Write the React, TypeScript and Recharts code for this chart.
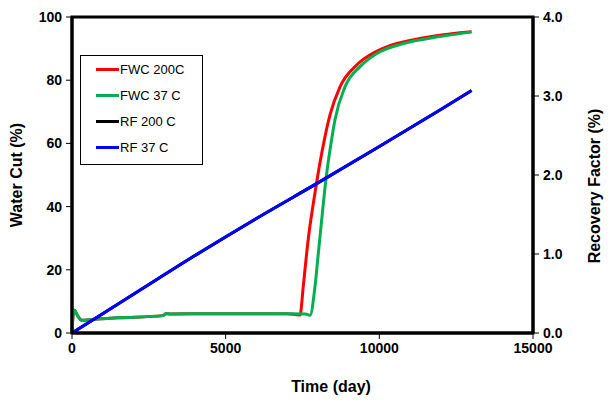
import React from 'react';
import {
	LineChart,
	Line,
	XAxis,
	YAxis,
	ReferenceArea,
} from 'recharts';

// time (day) / water cut (%)
const fwc200Time = [0, 30, 80, 180, 316, 683, 1500, 2960, 3060, 3200, 4500, 6000, 7000, 7419, 7527, 7690, 7852, 7982, 8177, 8395, 8720, 9263, 9696, 10300, 11000, 11800, 13000];
const fwc200Cut = [0, 5, 7.2, 5.5, 4.0, 4.3, 4.8, 5.5, 6.2, 6.0, 6.1, 6.1, 6.1, 5.7, 15, 30, 41, 49, 59.5, 69, 77.9, 84.8, 88, 90.8, 92.6, 94, 95.3];

const fwc37Time = [0, 30, 80, 180, 316, 683, 1500, 2960, 3060, 3200, 4500, 6000, 7000, 7600, 7744, 7906, 8015, 8124, 8210, 8300, 8420, 8557, 8883, 9371, 9696, 10022, 10781, 11974, 13000];
const fwc37Cut = [0, 5, 7.2, 5.5, 4.0, 4.3, 4.8, 5.5, 6.2, 6.0, 6.1, 6.1, 6.1, 6.0, 5.6, 14.7, 25.2, 35.8, 44, 51.5, 59.5, 67.5, 77.9, 84.3, 87, 89, 91.6, 93.8, 95.3];

// time (day) / recovery factor (%)
const rfTime = [0, 2000, 4000, 6000, 8000, 10000, 12000, 13000];
const rf200 = [0, 0.49, 0.98, 1.45, 1.9, 2.36, 2.83, 3.07];
const rf37 = [0, 0.49, 0.98, 1.45, 1.9, 2.36, 2.83, 3.07];

const xTicks = [0, 5000, 10000, 15000];
const cutTicks = [0, 20, 40, 60, 80, 100];
const rfTicks = [0, 1, 2, 3, 4];

const series = [
	{ name: 'FWC 200C', color: '#ff0000' },
	{ name: 'FWC 37 C', color: '#00b050' },
	{ name: 'RF 200 C', color: '#000000' },
	{ name: 'RF 37 C', color: '#0000ff' },
];

const pairs = (xs: number[], ys: number[]) => xs.map((t, i) => ({ t, v: ys[i] }));

const font = '"Liberation Sans", Arial, sans-serif';
const tickStyle = { fill: '#000', fontSize: 14, fontWeight: 700, fontFamily: font };

const LegendBox = () => (
	<div
		style={{
			position: 'absolute',
			left: 80,
			top: 55,
			border: '1px solid #000',
			background: '#fff',
			width: 121,
			padding: '0 0 4px 0',
			fontFamily: font,
			fontSize: 13,
			color: '#000',
		}}
	>
		{series.map((s) => (
			<div key={s.name} style={{ display: 'flex', alignItems: 'center', height: 26, paddingLeft: 15 }}>
				<span style={{ display: 'inline-block', width: 23, height: 3, background: s.color }} />
				<span style={{ marginLeft: 1 }}>{s.name}</span>
			</div>
		))}
	</div>
);

const App: React.FC = () => {
	return (
		<div style={{ position: 'absolute', left: 0, top: 0, background: '#fff' }}>
			<LineChart width={611} height={403} margin={{ top: 17, right: 0, left: 0, bottom: 0 }}>
				<XAxis
					dataKey="t"
					type="number"
					domain={[0, 15000]}
					ticks={xTicks}
					allowDuplicatedCategory={false}
					height={70}
					axisLine={{ stroke: '#000', strokeWidth: 3 }}
					tickLine={{ stroke: '#000', strokeWidth: 1 }}
					tickSize={6}
					tickMargin={4}
					tick={tickStyle}
					label={{
						content: () => (
							<text x={331} y={392} textAnchor="middle" fontFamily={font} fontSize={16} fontWeight={700} fill="#000">
								Time (day)
							</text>
						),
					}}
				/>
				<YAxis
					yAxisId="left"
					domain={[0, 100]}
					ticks={cutTicks}
					width={72}
					axisLine={{ stroke: '#000', strokeWidth: 3 }}
					tickLine={{ stroke: '#000', strokeWidth: 1 }}
					tickSize={6}
					tickMargin={4}
					tick={tickStyle}
					label={{
						content: () => (
							<text x={22} y={175} transform="rotate(-90 22 175)" textAnchor="middle" fontFamily={font} fontSize={16} fontWeight={700} fill="#000">
								Water Cut (%)
							</text>
						),
					}}
				/>
				<YAxis
					yAxisId="right"
					orientation="right"
					domain={[0, 4]}
					ticks={rfTicks}
					width={78}
					tickFormatter={(v: number) => v.toFixed(1)}
					axisLine={{ stroke: '#000', strokeWidth: 3 }}
					tickLine={{ stroke: '#000', strokeWidth: 1 }}
					tickSize={6}
					tickMargin={4}
					tick={tickStyle}
					label={{
						content: () => (
							<text x={600} y={186} transform="rotate(-90 600 186)" textAnchor="middle" fontFamily={font} fontSize={16} fontWeight={700} fill="#000">
								Recovery Factor (%)
							</text>
						),
					}}
				/>
				<ReferenceArea yAxisId="left" x1={0} x2={15000} y1={0} y2={100} fill="none" stroke="#000" strokeWidth={3} />
				<Line
					yAxisId="left"
					data={pairs(fwc200Time, fwc200Cut)}
					dataKey="v"
					name="FWC 200C"
					type="monotone"
					stroke="#ff0000"
					strokeWidth={3}
					dot={false}
					isAnimationActive={false}
				/>
				<Line
					yAxisId="left"
					data={pairs(fwc37Time, fwc37Cut)}
					dataKey="v"
					name="FWC 37 C"
					type="monotone"
					stroke="#00b050"
					strokeWidth={3}
					dot={false}
					isAnimationActive={false}
				/>
				<Line
					yAxisId="right"
					data={pairs(rfTime, rf200)}
					dataKey="v"
					name="RF 200 C"
					type="monotone"
					stroke="#000000"
					strokeWidth={3}
					dot={false}
					isAnimationActive={false}
				/>
				<Line
					yAxisId="right"
					data={pairs(rfTime, rf37)}
					dataKey="v"
					name="RF 37 C"
					type="monotone"
					stroke="#0000ff"
					strokeWidth={3}
					dot={false}
					isAnimationActive={false}
				/>
			</LineChart>
			<LegendBox />
		</div>
	);
};

export default App;
